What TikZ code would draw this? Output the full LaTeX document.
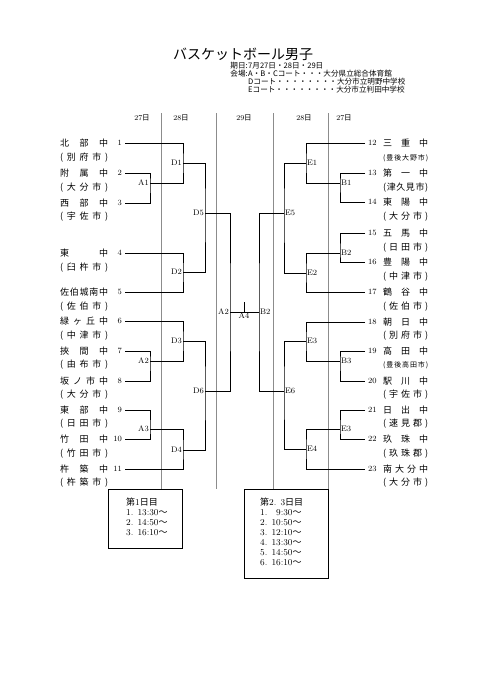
\documentclass[tikz,border=0pt]{standalone}
\usepackage{fontspec}
\newfontfamily\jp{Noto Sans CJK JP}
\usetikzlibrary{positioning}
\makeatletter
\def\spreadchars#1{\spr@a#1\relax}
\def\spr@a#1#2{#1\ifx\relax#2\else\hfill\expandafter\spr@a\expandafter#2\fi}
\makeatother
\newcommand\lname[1]{\hbox to 48pt{\spreadchars{#1}}}
\newcommand\rname[1]{\hbox to 45pt{\spreadchars{#1}}}
\tikzset{
  game/.style={line width=0.8pt},
  dayline/.style={black!45,line width=0.5pt},
  tag/.style={font=\fontsize{8}{8}\selectfont,inner sep=1pt},
  seed/.style={font=\fontsize{8}{8}\selectfont,inner sep=3pt},
  school/.style={font=\jp\fontsize{9}{9}\selectfont,inner sep=0pt,anchor=west},
  smallcity/.style={font=\jp\fontsize{7}{7}\selectfont,inner sep=0pt,anchor=west},
  dayhead/.style={font=\fontsize{7.5}{7.5}\selectfont,inner sep=0pt},
  info/.style={font=\jp\fontsize{7.6}{7.6}\selectfont,inner sep=0pt},
  timebox/.style={draw,line width=0.6pt,inner sep=0pt},
  times/.style={font=\fontsize{9}{10}\selectfont,align=left,anchor=north west,inner sep=0pt}
}
\begin{document}
\begin{tikzpicture}[x=1pt,y=-1pt]
\useasboundingbox (0,0) rectangle (481,680);
% heading
\node[font=\jp\fontsize{14}{14}\selectfont] (title) at (243,54) {バスケットボール男子};
\path[every node/.style={info}]
(248,66) node[anchor=east] (kijitu) {期日:} node[anchor=west] (hi) {7月27日・28日・29日}
(248,74) node[anchor=east] (kaijo) {会場:} node[anchor=west] (abc) {A・B・Cコート・・・大分県立総合体育館}
(248,82) node[anchor=west] (dcourt) {Dコート・・・・・・・・大分市立明野中学校}
(248,90) node[anchor=west] (ecourt) {Eコート・・・・・・・・大分市立判田中学校};
% days
\path[every node/.style={dayhead}]
(142,118) node (d27l) {27{\jp 日}}
(181,118) node (d28l) {28{\jp 日}}
(244,118) node (d29)  {29{\jp 日}}
(304,118) node (d28r) {28{\jp 日}}
(344,118) node (d27r) {27{\jp 日}};
\draw[dayline] (161,113) -- (161,489);
\draw[dayline] (216,113) -- (216,489);
\draw[dayline] (273,113) -- (273,489);
\draw[dayline] (328,113) -- (328,489);
% left teams
\path
(125,143) node[seed,anchor=east] (n1) {1}
 (60,143) node[school] (s1) {\lname{北部中}}
 (60,158) node[school] (c1) {\lname{(別府市)}}
(125,173) node[seed,anchor=east] (n2) {2}
 (60,173) node[school] (s2) {\lname{附属中}}
 (60,188) node[school] (c2) {\lname{(大分市)}}
(125,203) node[seed,anchor=east] (n3) {3}
 (60,203) node[school] (s3) {\lname{西部中}}
 (60,217) node[school] (c3) {\lname{(宇佐市)}}
(125,253) node[seed,anchor=east] (n4) {4}
 (60,253) node[school] (s4) {\lname{東中}}
 (60,268) node[school] (c4) {\lname{(臼杵市)}}
(125,292) node[seed,anchor=east] (n5) {5}
 (60,292) node[school] (s5) {\lname{佐伯城南中}}
 (60,307) node[school] (c5) {\lname{(佐伯市)}}
(125,321) node[seed,anchor=east] (n6) {6}
 (60,321) node[school] (s6) {\lname{緑ヶ丘中}}
 (60,336) node[school] (c6) {\lname{(中津市)}}
(125,351) node[seed,anchor=east] (n7) {7}
 (60,351) node[school] (s7) {\lname{挾間中}}
 (60,365) node[school] (c7) {\lname{(由布市)}}
(125,381) node[seed,anchor=east] (n8) {8}
 (60,381) node[school] (s8) {\lname{坂ノ市中}}
 (60,395) node[school] (c8) {\lname{(大分市)}}
(125,410) node[seed,anchor=east] (n9) {9}
 (60,410) node[school] (s9) {\lname{東部中}}
 (60,424) node[school] (c9) {\lname{(日田市)}}
(125,439) node[seed,anchor=east] (n10) {10}
 (60,439) node[school] (s10) {\lname{竹田中}}
 (60,454) node[school] (c10) {\lname{(竹田市)}}
(125,469) node[seed,anchor=east] (n11) {11}
 (60,469) node[school] (s11) {\lname{杵築中}}
 (60,483) node[school] (c11) {\lname{(杵築市)}};
% right teams
\path
(365,143) node[seed,anchor=west] (n12) {12}
(383,143) node[school] (s12) {\rname{三重中}}
(383,158) node[smallcity] (c12) {\rname{(豊後大野市)}}
(365,173) node[seed,anchor=west] (n13) {13}
(383,173) node[school] (s13) {\rname{第一中}}
(383,188) node[school] (c13) {\rname{(津久見市)}}
(365,202) node[seed,anchor=west] (n14) {14}
(383,202) node[school] (s14) {\rname{東陽中}}
(383,217) node[school] (c14) {\rname{(大分市)}}
(365,233) node[seed,anchor=west] (n15) {15}
(383,233) node[school] (s15) {\rname{五馬中}}
(383,248) node[school] (c15) {\rname{(日田市)}}
(365,262) node[seed,anchor=west] (n16) {16}
(383,262) node[school] (s16) {\rname{豊陽中}}
(383,277) node[school] (c16) {\rname{(中津市)}}
(365,292) node[seed,anchor=west] (n17) {17}
(383,292) node[school] (s17) {\rname{鶴谷中}}
(383,307) node[school] (c17) {\rname{(佐伯市)}}
(365,322) node[seed,anchor=west] (n18) {18}
(383,322) node[school] (s18) {\rname{朝日中}}
(383,336) node[school] (c18) {\rname{(別府市)}}
(365,351) node[seed,anchor=west] (n19) {19}
(383,351) node[school] (s19) {\rname{高田中}}
(383,365) node[smallcity] (c19) {\rname{(豊後高田市)}}
(365,381) node[seed,anchor=west] (n20) {20}
(383,381) node[school] (s20) {\rname{駅川中}}
(383,395) node[school] (c20) {\rname{(宇佐市)}}
(365,410) node[seed,anchor=west] (n21) {21}
(383,410) node[school] (s21) {\rname{日出中}}
(383,424) node[school] (c21) {\rname{(速見郡)}}
(365,439) node[seed,anchor=west] (n22) {22}
(383,439) node[school] (s22) {\rname{玖珠中}}
(383,454) node[school] (c22) {\rname{(玖珠郡)}}
(365,469) node[seed,anchor=west] (n23) {23}
(383,469) node[school] (s23) {\rname{南大分中}}
(383,483) node[school] (c23) {\rname{(大分市)}};
% games, left
\coordinate (A1) at (150,183);
\coordinate (A2) at (150,361);
\coordinate (A3) at (150,429);
\coordinate (D1) at (183,163);
\coordinate (D2) at (183,272);
\coordinate (D3) at (183,341);
\coordinate (D4) at (183,450);
\coordinate (D5) at (205,213);
\coordinate (D6) at (205,391);
\coordinate (fL) at (230,312);
% games, right
\coordinate (B1) at (340,183);
\coordinate (B2) at (340,253);
\coordinate (B3) at (340,361);
\coordinate (B4) at (340,429);
\coordinate (E1) at (306,163);
\coordinate (E2) at (306,273);
\coordinate (E3) at (306,341);
\coordinate (E4) at (306,449);
\coordinate (E5) at (284,213);
\coordinate (E6) at (284,391);
\coordinate (fR) at (259,312);
\coordinate (fA4) at (244,312);
\coordinate (fA4t) at (244,302);
\draw[game] (n2.east) -| (A1) |- (n3.east);
\draw[game] (n7.east) -| (A2) |- (n8.east);
\draw[game] (n9.east) -| (A3) |- (n10.east);
\draw[game] (n1.east) -| (D1) |- (A1);
\draw[game] (n4.east) -| (D2) |- (n5.east);
\draw[game] (n6.east) -| (D3) |- (A2);
\draw[game] (A3) -| (D4) |- (n11.east);
\draw[game] (D1) -| (D5) |- (D2);
\draw[game] (D3) -| (D6) |- (D4);
\draw[game] (D5) -| (fL) |- (D6);
\draw[game] (n13.west) -| (B1) |- (n14.west);
\draw[game] (n15.west) -| (B2) |- (n16.west);
\draw[game] (n19.west) -| (B3) |- (n20.west);
\draw[game] (n21.west) -| (B4) |- (n22.west);
\draw[game] (n12.west) -| (E1) |- (B1);
\draw[game] (B2) -| (E2) |- (n17.west);
\draw[game] (n18.west) -| (E3) |- (B3);
\draw[game] (B4) -| (E4) |- (n23.west);
\draw[game] (E1) -| (E5) |- (E2);
\draw[game] (E3) -| (E6) |- (E4);
\draw[game] (E5) -| (fR) |- (E6);
\draw[game] (fL) -- (fR);
\draw[game] (fA4) -- (fA4t);
% game labels
\node[tag,left=0pt of A1] (tA1) {A1};
\node[tag,left=0pt of A2] (tA2) {A2};
\node[tag,left=0pt of A3] (tA3) {A3};
\node[tag,left=0pt of D1] (tD1) {D1};
\node[tag,left=0pt of D2] (tD2) {D2};
\node[tag,left=0pt of D3] (tD3) {D3};
\node[tag,left=0pt of D4] (tD4) {D4};
\node[tag,left=0pt of D5] (tD5) {D5};
\node[tag,left=0pt of D6] (tD6) {D6};
\node[tag,left=0pt of fL] (tfL) {A2};
\node[tag,right=0pt of B1] (tB1) {B1};
\node[tag,right=0pt of B2] (tB2) {B2};
\node[tag,right=0pt of B3] (tB3) {B3};
\node[tag,right=0pt of B4] (tB4) {E3};
\node[tag,right=0pt of E1] (tE1) {E1};
\node[tag,right=0pt of E2] (tE2) {E2};
\node[tag,right=0pt of E3] (tE3) {E3};
\node[tag,right=0pt of E4] (tE4) {E4};
\node[tag,right=0pt of E5] (tE5) {E5};
\node[tag,right=0pt of E6] (tE6) {E6};
\node[tag,right=0pt of fR] (tfR) {B2};
\node[tag,below=0pt of fA4] (tA4) {A4};
% timetables
\node[timebox,minimum width=74pt,minimum height=59pt] (box1) at (145,518.5) {};
\node[times] (sched1) at (126,498) {{\jp 第}1{\jp 日目}\\1. 13:30{\jp ～}\\2. 14:50{\jp ～}\\3. 16:10{\jp ～}};
\node[timebox,minimum width=84pt,minimum height=89pt] (box2) at (286,533.5) {};
\node[times] (sched2) at (260,498) {{\jp 第}2. 3{\jp 日目}\\1. \phantom{1}9:30{\jp ～}\\2. 10:50{\jp ～}\\3. 12:10{\jp ～}\\4. 13:30{\jp ～}\\5. 14:50{\jp ～}\\6. 16:10{\jp ～}};
\end{tikzpicture}
\end{document}
